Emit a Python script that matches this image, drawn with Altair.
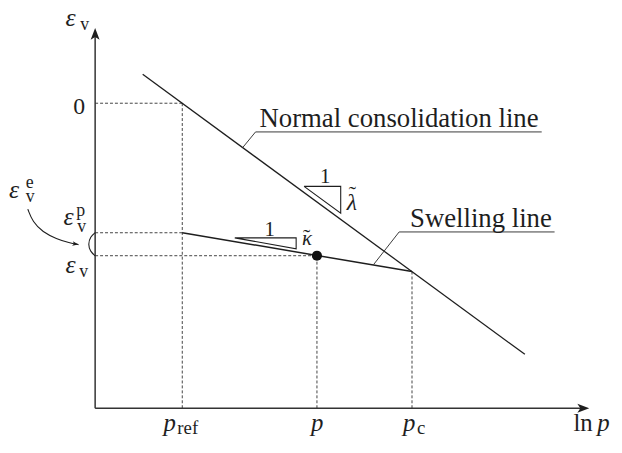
import altair as alt
import pandas as pd

# ---- values (schematic units: ln p on x, strain level on y) ----
ln_p_ref, ln_p, ln_p_c = 2.2, 5.6, 8.0
eps_zero, eps_p, eps_v = 7.7, 4.43, 3.85
eps_c = 3.45
x_axis_end, y_axis_end = 12.475, 9.6

ncl_x = [1.2, 10.85]
ncl_y = [8.43, 1.36]
swell_x = [ln_p_ref, ln_p_c]
swell_y = [eps_p, eps_c]

ncl_leader_x = [3.725, 4.05, 11.275]
ncl_leader_y = [6.58, 6.975, 6.975]
swell_leader_x = [7.025, 7.675, 11.6]
swell_leader_y = [3.62, 4.45, 4.45]

tri_lambda_x = [5.275, 6.2, 6.2, 5.275]
tri_lambda_y = [5.6, 5.6, 4.925, 5.6]
tri_kappa_x = [3.525, 5.075, 5.075, 3.525]
tri_kappa_y = [4.3, 4.3, 4.025, 4.3]

arc_x = [0, -0.12, -0.18, -0.12, 0]
arc_y = [eps_p, 4.33, 4.14, 3.95, eps_v]
curve_x = [-1.7, -1.575, -1.325, -0.975, -0.65, -0.42]
curve_y = [5.025, 4.7, 4.45, 4.275, 4.175, 4.13]

PX = 40.0  # pixels per unit on both axes
X_DOMAIN = [-2.2, 13.1]
Y_DOMAIN = [-0.875, 10.05]
W = 612
H = 437

INK = "#1e1e1e"
AXIS = "#333333"
DOT = "#444444"

# ---- segments ----
dotted = pd.DataFrame([
    (0, eps_zero, ln_p_ref, eps_zero),
    (ln_p_ref, 0, ln_p_ref, eps_zero),
    (0, eps_p, ln_p_ref, eps_p),
    (0, eps_v, ln_p, eps_v),
    (ln_p, 0, ln_p, eps_v),
    (ln_p_c, 0, ln_p_c, eps_c),
], columns=["x", "y", "x2", "y2"])

solid_rows = [
    (0, 0, 0, y_axis_end - 0.2, 1.5, AXIS),
    (0, 0, x_axis_end - 0.2, 0, 1.5, AXIS),
    (ncl_x[0], ncl_y[0], ncl_x[1], ncl_y[1], 1.3, INK),
    (swell_x[0], swell_y[0], swell_x[1], swell_y[1], 1.5, INK),
]
for xs, ys in [(ncl_leader_x, ncl_leader_y), (swell_leader_x, swell_leader_y)]:
    for i in range(len(xs) - 1):
        solid_rows.append((xs[i], ys[i], xs[i + 1], ys[i + 1], 1.0, "#3a3a3a"))
solid = pd.DataFrame(solid_rows, columns=["x", "y", "x2", "y2", "w", "c"])

poly_rows = []
for name, xs, ys in [("lam", tri_lambda_x, tri_lambda_y), ("kap", tri_kappa_x, tri_kappa_y)]:
    for i, (a, b) in enumerate(zip(xs, ys)):
        poly_rows.append((name, i, a, b))
poly = pd.DataFrame(poly_rows, columns=["g", "i", "x", "y"])

curve_rows = []
for name, xs, ys in [("arc", arc_x, arc_y), ("curve", curve_x, curve_y)]:
    for i, (a, b) in enumerate(zip(xs, ys)):
        curve_rows.append((name, i, a, b))
curves = pd.DataFrame(curve_rows, columns=["g", "i", "x", "y"])

arrows = pd.DataFrame([
    (0, y_axis_end, 0, 225),
    (x_axis_end, 0, 90, 225),
    (curve_x[-1], curve_y[-1], 100, 60),
], columns=["x", "y", "a", "s"])

dot = pd.DataFrame({"x": [ln_p], "y": [eps_v]})

# ---- labels: (text, anchor x, anchor y, dx px, dy px, font size) ----
italic_labels = [
    ("ε", 0, y_axis_end, -30, -2, 26),
    ("ε", 0, eps_p, -87, -35, 26),
    ("ε", 0, eps_p, -32, -8, 26),
    ("ε", 0, eps_v, -30, 17, 26),
    ("p", ln_p_ref, 0, -19, 23, 25),
    ("p", ln_p, 0, -6, 23, 25),
    ("p", ln_p_c, 0, -9, 23, 25),
    ("p", x_axis_end, 0, 8, 23, 25),
    ("λ", tri_lambda_x[1], tri_lambda_y[1], 6, 24, 24),
    ("κ", tri_kappa_x[1], tri_kappa_y[1], 6, 7, 21),
]
upright_labels = [
    ("v", 0, y_axis_end, -15, 2, 18),
    ("e", 0, eps_p, -70, -45, 18),
    ("v", 0, eps_p, -70, -31, 18),
    ("p", 0, eps_p, -19, -17, 18),
    ("v", 0, eps_p, -18, -1, 18),
    ("v", 0, eps_v, -16, 21, 18),
    ("0", 0, eps_zero, -22, 11, 24),
    ("ref", ln_p_ref, 0, -5, 26, 19),
    ("c", ln_p_c, 0, 5, 26, 19),
    ("ln", x_axis_end, 0, -16, 23, 25),
    ("1", tri_lambda_x[1], tri_lambda_y[1], -21, -3, 21),
    ("1", tri_kappa_x[1], tri_kappa_y[1], -32, -2, 21),
    ("˜", tri_lambda_x[1], tri_lambda_y[1], 8, 15, 22),
    ("˜", tri_kappa_x[1], tri_kappa_y[1], 7, 6, 22),
    ("Normal consolidation line", ncl_leader_x[1], ncl_leader_y[1], 4, -5, 27),
    ("Swelling line", swell_leader_x[1], swell_leader_y[1], 11, -5, 27),
]


def label_frame(rows):
    return pd.DataFrame(
        [(t, ax + dx / PX, ay - dy / PX, s) for t, ax, ay, dx, dy, s in rows],
        columns=["t", "x", "y", "s"],
    )


xs = alt.Scale(domain=X_DOMAIN, nice=False, zero=False)
ys = alt.Scale(domain=Y_DOMAIN, nice=False, zero=False)
X = alt.X("x:Q", scale=xs, axis=None)
Y = alt.Y("y:Q", scale=ys, axis=None)

dotted_layer = alt.Chart(dotted).mark_rule(
    strokeDash=[3, 2], strokeWidth=1, color=DOT
).encode(x=X, y=Y, x2="x2:Q", y2="y2:Q")

solid_layer = alt.Chart(solid).mark_rule().encode(
    x=X, y=Y, x2="x2:Q", y2="y2:Q",
    strokeWidth=alt.StrokeWidth("w:Q", scale=None),
    color=alt.Color("c:N", scale=None),
)

poly_layer = alt.Chart(poly).mark_line(color=INK, strokeWidth=1.1).encode(
    x=X, y=Y, detail="g:N", order="i:Q"
)

curve_layer = alt.Chart(curves).mark_line(
    color=INK, strokeWidth=1.1, interpolate="basis"
).encode(x=X, y=Y, detail="g:N", order="i:Q")

arrow_layer = alt.Chart(arrows).mark_point(
    shape="M0,0L0.6,1.6L0,1.2L-0.6,1.6Z", filled=True, opacity=1, color=INK, strokeWidth=0
).encode(
    x=X, y=Y,
    angle=alt.Angle("a:Q", scale=None),
    size=alt.Size("s:Q", scale=None),
)

dot_layer = alt.Chart(dot).mark_circle(size=105, color="#111111", opacity=1).encode(x=X, y=Y)

italic_layer = alt.Chart(label_frame(italic_labels)).mark_text(
    font="Liberation Serif", fontStyle="italic", align="left", baseline="alphabetic", color=INK
).encode(x=X, y=Y, text="t:N", size=alt.Size("s:Q", scale=None))

upright_layer = alt.Chart(label_frame(upright_labels)).mark_text(
    font="Liberation Serif", align="left", baseline="alphabetic", color=INK
).encode(x=X, y=Y, text="t:N", size=alt.Size("s:Q", scale=None))

chart = alt.layer(
    dotted_layer, solid_layer, poly_layer, curve_layer, arrow_layer,
    dot_layer, italic_layer, upright_layer,
).properties(
    width=W, height=H, padding=0, autosize=alt.AutoSizeParams(type="none"),
    background="white",
).configure_view(stroke=None)

chart.save("out.html", embed_options={"renderer": "svg", "actions": False})
